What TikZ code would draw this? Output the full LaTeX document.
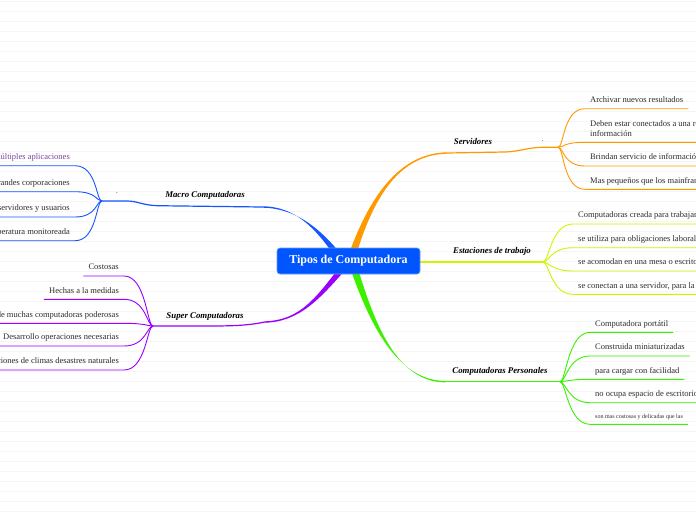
\documentclass[tikz,border=0pt]{standalone}
\usepackage{fontspec}
\setmainfont{Liberation Serif}
\usetikzlibrary{calc}
\definecolor{rootblue}{RGB}{0,85,255}
\definecolor{macroblue}{RGB}{20,85,255}
\definecolor{servorange}{RGB}{255,153,0}
\definecolor{superviolet}{RGB}{153,0,255}
\definecolor{estayellow}{RGB}{205,245,0}
\definecolor{persgreen}{RGB}{60,240,0}
\definecolor{leafgray}{RGB}{45,45,45}
\definecolor{notepurple}{RGB}{120,70,160}
\tikzset{
  leaf/.style={font=\fontsize{8.5}{10}\selectfont, text=leafgray, inner xsep=5pt,
    inner ysep=4pt, text height=6pt, text depth=2pt},
  leafright/.style={leaf, anchor=south west},
  leafleft/.style={leaf, anchor=south east},
  branchlabel/.style={font=\fontsize{8.8}{10}\selectfont\bfseries\itshape, inner sep=1pt},
  root/.style={fill=rootblue, draw=rootblue!60!white, line width=0.6pt, rounded corners=3pt,
    text=white, font=\fontsize{12}{14}\selectfont\bfseries,
    minimum width=143pt, minimum height=26pt},
  stem/.style={line width=1.2pt},
  twig/.style={line width=0.9pt},
  rule/.style={draw=black!4, line width=0.4pt},
  dot/.style={font=\fontsize{7}{7}\selectfont, inner sep=0pt},
}
% thick tapered branch: colour, start, control 1, control 2, end
\newcommand{\taper}[5]{%
  \fill[#1] ($(#2)+(-4,0)$) .. controls ($(#3)+(-2.5,0)$) and ($(#4)+(0,-0.8)$) .. ($(#5)+(0,-0.7)$)
    -- ($(#5)+(0,0.7)$) .. controls ($(#4)+(0,0.8)$) and ($(#3)+(2.5,0)$) .. ($(#2)+(4,0)$) -- cycle;}

\begin{document}
\begin{tikzpicture}[x=1pt, y=-1pt]
  \useasboundingbox (0,0) rectangle (696,520);
  \clip (0,0) rectangle (696,520);
  \fill[white] (0,0) rectangle (696,520);
  \foreach \y in {0,10,...,520}
    \draw[rule] (0,\y+0.7) -- (696,\y+0.7);

  % hubs and branch ends
  \coordinate (macrohub) at (102,201);
  \coordinate (macroend) at (262,207);
  \coordinate (superhub) at (153,326);
  \coordinate (superend) at (265,322);
  \coordinate (servhub) at (558,147.3);
  \coordinate (servend) at (447,153);
  \coordinate (estahub) at (543,262);
  \coordinate (estaend) at (420,262);
  \coordinate (pershub) at (560,381.7);
  \coordinate (persend) at (445,381.7);

  % thick branches out of the root
  \coordinate (b1) at (340,258); \coordinate (b1a) at (318,228); \coordinate (b1b) at (295,207);
  \taper{macroblue}{b1}{b1a}{b1b}{macroend}
  \coordinate (b2) at (343,268); \coordinate (b2a) at (318,298); \coordinate (b2b) at (300,321);
  \taper{superviolet}{b2}{b2a}{b2b}{superend}
  \coordinate (b3) at (350,262); \coordinate (b3a) at (368,205); \coordinate (b3b) at (395,154);
  \taper{servorange}{b3}{b3a}{b3b}{servend}
  \coordinate (b4) at (352,262); \coordinate (b4a) at (372,325); \coordinate (b4b) at (397,381);
  \taper{persgreen}{b4}{b4a}{b4b}{persend}
  \draw[estayellow, line width=1.6pt] (estaend) -- (estahub);

  \node[root] (root) at (348.5,261) {Tipos de Computadora};

  % stems under the branch labels
  \draw[stem, macroblue] (macroend) -- (157,205.7) .. controls (142,205) and (137,201) .. (127,201) -- (macrohub);
  \draw[stem, superviolet] (superend) .. controls (245,326) and (230,326) .. (200,326) -- (superhub);
  \draw[stem, servorange] (servend) -- (505,152) .. controls (520,151.5) and (528,147.3) .. (543,147.3) -- (servhub);
  \draw[stem, persgreen] (persend) -- (pershub);

  \node[branchlabel] (macro) at (205,195) {Macro Computadoras};
  \node[branchlabel] (super) at (205,316) {Super Computadoras};
  \node[branchlabel] (serv) at (473,141) {Servidores};
  \node[branchlabel] (esta) at (492,251.7) {Estaciones de trabajo};
  \node[branchlabel] (pers) at (500,371) {Computadoras Personales};
  \node[dot] (macrodot) at (117,193) {.};
  \node[dot] (servdot) at (542.7,141.5) {.};

  % Macro Computadoras
  \node[leafleft, text=notepurple] (m1) at (75,165.7) {Múltiples aplicaciones};
  \node[leafleft] (m2) at (75,191.7) {Grandes corporaciones};
  \node[leafleft] (m3) at (75,217) {servidores y usuarios};
  \node[leafleft] (m4) at (75,240.7) {temperatura monitoreada};
  \foreach \n in {m1,m2,m3,m4}
    \draw[twig, macroblue] (macrohub) .. controls +(-6,0) and +(22,0) .. (\n.south east) -- (\n.south west);

  % Super Computadoras
  \node[leafleft] (s1) at (124,276) {Costosas};
  \node[leafleft] (s2) at (124,299.3) {Hechas a la medidas};
  \node[leafleft] (s3) at (124,323.3) {de muchas computadoras poderosas};
  \node[leafleft] (s4) at (124,346) {Desarrollo operaciones necesarias};
  \node[leafleft] (s5) at (124,370) {Predicciones de climas desastres naturales};
  \foreach \n in {s1,s2,s3,s4,s5}
    \draw[twig, superviolet] (superhub) .. controls +(-6,0) and +(22,0) .. (\n.south east) -- (\n.south west);

  % Servidores
  \node[leafright] (v1) at (585,108.7) {Archivar nuevos resultados};
  \node[leafright, align=left] (v2) at (585,142.3) {Deben estar conectados a una red\\información};
  \node[leafright] (v3) at (585,166) {Brindan servicio de información};
  \node[leafright] (v4) at (585,189.3) {Mas pequeños que los mainframes};
  \foreach \n in {v1,v2,v3,v4}
    \draw[twig, servorange] (servhub) .. controls +(6,0) and +(-22,0) .. (\n.south west) -- (\n.south east);

  % Estaciones de trabajo
  \node[leafright] (e1) at (573,224) {Computadoras creada para trabajar};
  \node[leafright] (e2) at (573,247.7) {se utiliza para obligaciones laborales};
  \node[leafright] (e3) at (573,271) {se acomodan en una mesa o escritorio};
  \node[leafright] (e4) at (573,294.3) {se conectan a una servidor, para la};
  \foreach \n in {e1,e2,e3,e4}
    \draw[twig, estayellow] (estahub) .. controls +(6,0) and +(-22,0) .. (\n.south west) -- (\n.south east);

  % Computadoras Personales
  \node[leafright] (p1) at (590,332.3) {Computadora portátil};
  \node[leafright] (p2) at (590,356) {Construida miniaturizadas};
  \node[leafright] (p3) at (590,379.3) {para cargar con facilidad};
  \node[leafright] (p4) at (590,402.7) {no ocupa espacio de escritorio};
  \node[leafright, font=\fontsize{6}{7}\selectfont] (p5) at (590,424.3) {son mas costosas y delicadas que las};
  \foreach \n in {p1,p2,p3,p4,p5}
    \draw[twig, persgreen] (pershub) .. controls +(6,0) and +(-22,0) .. (\n.south west) -- (\n.south east);
\end{tikzpicture}
\end{document}
